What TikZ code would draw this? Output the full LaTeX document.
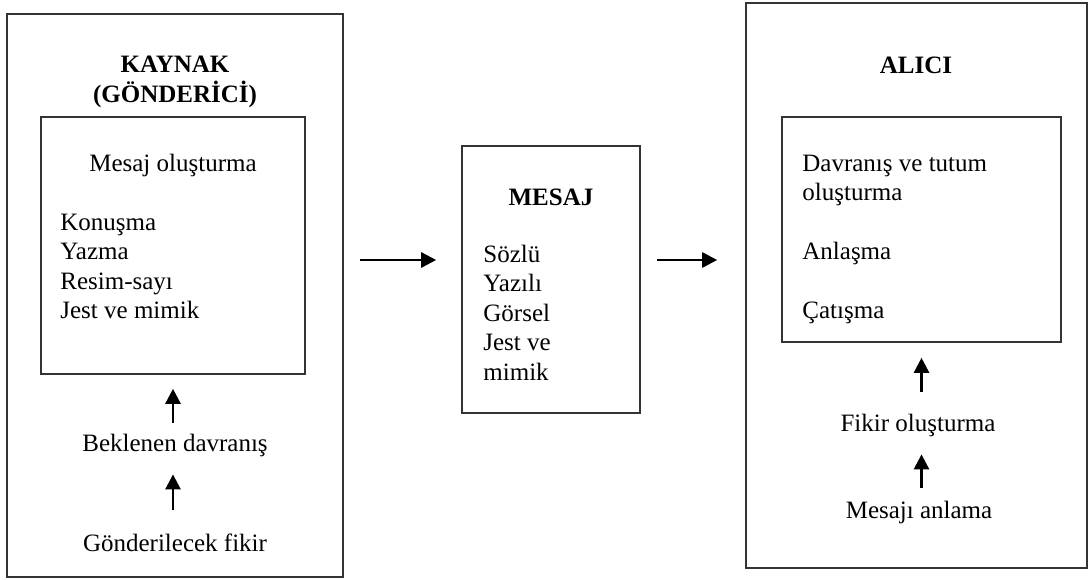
\documentclass[tikz,border=0pt]{standalone}
\usepackage{fontspec}
\setmainfont{Liberation Serif}
\usetikzlibrary{arrows.meta,calc,positioning}
\tikzset{
  box/.style={draw=black!80,line width=0.8pt,inner sep=0pt},
  stage/.style={inner sep=0pt,text height=9pt,text depth=3pt},
  title/.style={inner sep=0pt,font=\fontsize{12.5}{14.75}\selectfont\bfseries},
  items/.style={align=left,anchor=base west,inner sep=0pt},
  every node/.style={font=\fontsize{12.5}{14.75}\selectfont}
}
\tikzstyle{arrow} = [line width=1.3pt,-{Triangle[length=7.5pt,width=7.5pt]}]

\begin{document}
\begin{tikzpicture}[x=0.5pt,y=-0.5pt]
  \useasboundingbox (0,0) rectangle (1091,579);
  % kaynak (base = last line)
  \node[box,minimum width=168pt,minimum height=281.5pt] (src) at (175,295.5) {};
  \node[box,minimum width=132pt,minimum height=128.5pt] (srcin) at (173,245.5) {};
  \node[title,align=center,anchor=base] (srctitle) at (175,102) {KAYNAK\\(GÖNDERİCİ)};
  \node[anchor=base,inner sep=0pt] (srchead) at (173,171) {Mesaj oluşturma};
  \node[items] (srclist) at (60,318.5) {Konuşma\\Yazma\\Resim-sayı\\Jest ve mimik};
  \node[stage,anchor=base] (expect) at (175,451) {Beklenen davranış};
  \node[stage,anchor=base] (idea) at (175,551) {Gönderilecek fikir};
  % mesaj
  \node[box,minimum width=89pt,minimum height=133.5pt] (msg) at (551,279.5) {};
  \node[title,anchor=base] (msgtitle) at (551,205) {MESAJ};
  \node[items] (msglist) at (483,380) {Sözlü\\Yazılı\\Görsel\\Jest ve\\mimik};
  % alici
  \node[box,minimum width=170.5pt,minimum height=282.5pt] (rcv) at (916.5,285.5) {};
  \node[box,minimum width=139.5pt,minimum height=112.5pt] (rcvin) at (921.5,229.5) {};
  \node[title,anchor=base] (rcvtitle) at (916,73) {ALICI};
  \node[items] (rcvlist) at (802,318.5)
    {Davranış ve tutum\\oluşturma\\[14.75pt]Anlaşma\\[14.75pt]Çatışma};
  \node[stage,anchor=base] (opinion) at (918,431) {Fikir oluşturma};
  \node[stage,anchor=base] (grasp) at (919,518) {Mesajı anlama};
  % oklar
  \coordinate (flow) at (0,260);
  \draw[arrow,shorten <=8pt,shorten >=12.5pt] (src.east |- flow) -- (msg.west |- flow);
  \draw[arrow,shorten <=8pt,shorten >=14pt] (msg.east |- flow) -- (rcv.west |- flow);
  \draw[arrow,shorten <=5pt,shorten >=7pt] (srcin.south |- expect.north) -- (srcin.south);
  \draw[arrow,shorten <=11.5pt,shorten >=8.5pt] (srcin.south |- idea.north) -- (srcin.south |- expect.south);
  \draw[arrow,shorten <=10.5pt,shorten >=7.5pt] (rcvin.south |- opinion.north) -- (rcvin.south);
  \draw[arrow,shorten <=6pt,shorten >=8.5pt] (rcvin.south |- grasp.north) -- (rcvin.south |- opinion.south);
\end{tikzpicture}
\end{document}
